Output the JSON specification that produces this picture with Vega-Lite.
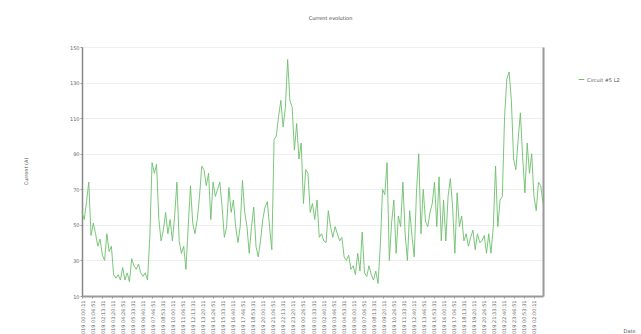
{
  "$schema": "https://vega.github.io/schema/vega-lite/v6.json",
  "width": 461,
  "height": 249,
  "autosize": {"type": "none"},
  "padding": {"left": 82, "top": 47, "right": 98, "bottom": 38},
  "background": "white",
  "config": {"view": {"stroke": null}, "font": "DejaVu Sans"},
  "title": {"text": "Current evolution", "fontSize": 5, "fontWeight": "normal", "color": "#444444", "offset": 24, "dx": 18},
  "data": {"values": [
    {"t":"2019-01-01T00:00","v":57},{"t":"2019-01-01T00:15","v":53},{"t":"2019-01-01T00:30","v":63},{"t":"2019-01-01T00:45","v":74},
    {"t":"2019-01-01T01:00","v":44},{"t":"2019-01-01T01:15","v":51},{"t":"2019-01-01T01:30","v":45},{"t":"2019-01-01T01:45","v":38},
    {"t":"2019-01-01T02:00","v":42},{"t":"2019-01-01T02:15","v":33},{"t":"2019-01-01T02:30","v":30},{"t":"2019-01-01T02:45","v":45},
    {"t":"2019-01-01T03:00","v":35},{"t":"2019-01-01T03:15","v":38},{"t":"2019-01-01T03:30","v":22},{"t":"2019-01-01T03:45","v":20},
    {"t":"2019-01-01T04:00","v":22},{"t":"2019-01-01T04:15","v":19},{"t":"2019-01-01T04:30","v":26},{"t":"2019-01-01T04:45","v":19},
    {"t":"2019-01-01T05:00","v":23},{"t":"2019-01-01T05:15","v":18},{"t":"2019-01-01T05:30","v":31},{"t":"2019-01-01T05:45","v":27},
    {"t":"2019-01-01T06:00","v":25},{"t":"2019-01-01T06:15","v":28},{"t":"2019-01-01T06:30","v":23},{"t":"2019-01-01T06:45","v":21},
    {"t":"2019-01-01T07:00","v":23},{"t":"2019-01-01T07:15","v":19},{"t":"2019-01-01T07:30","v":43},{"t":"2019-01-01T07:45","v":85},
    {"t":"2019-01-01T08:00","v":79},{"t":"2019-01-01T08:15","v":84},{"t":"2019-01-01T08:30","v":53},{"t":"2019-01-01T08:45","v":41},
    {"t":"2019-01-01T09:00","v":47},{"t":"2019-01-01T09:15","v":57},{"t":"2019-01-01T09:30","v":45},{"t":"2019-01-01T09:45","v":53},
    {"t":"2019-01-01T10:00","v":41},{"t":"2019-01-01T10:15","v":55},{"t":"2019-01-01T10:30","v":74},{"t":"2019-01-01T10:45","v":41},
    {"t":"2019-01-01T11:00","v":34},{"t":"2019-01-01T11:15","v":38},{"t":"2019-01-01T11:30","v":25},{"t":"2019-01-01T11:45","v":49},
    {"t":"2019-01-01T12:00","v":72},{"t":"2019-01-01T12:15","v":51},{"t":"2019-01-01T12:30","v":45},{"t":"2019-01-01T12:45","v":53},
    {"t":"2019-01-01T13:00","v":66},{"t":"2019-01-01T13:15","v":83},{"t":"2019-01-01T13:30","v":81},{"t":"2019-01-01T13:45","v":72},
    {"t":"2019-01-01T14:00","v":79},{"t":"2019-01-01T14:15","v":53},{"t":"2019-01-01T14:30","v":74},{"t":"2019-01-01T14:45","v":66},
    {"t":"2019-01-01T15:00","v":70},{"t":"2019-01-01T15:15","v":74},{"t":"2019-01-01T15:30","v":60},{"t":"2019-01-01T15:45","v":43},
    {"t":"2019-01-01T16:00","v":49},{"t":"2019-01-01T16:15","v":71},{"t":"2019-01-01T16:30","v":57},{"t":"2019-01-01T16:45","v":64},
    {"t":"2019-01-01T17:00","v":49},{"t":"2019-01-01T17:15","v":40},{"t":"2019-01-01T17:30","v":49},{"t":"2019-01-01T17:45","v":75},
    {"t":"2019-01-01T18:00","v":57},{"t":"2019-01-01T18:15","v":49},{"t":"2019-01-01T18:30","v":34},{"t":"2019-01-01T18:45","v":49},
    {"t":"2019-01-01T19:00","v":60},{"t":"2019-01-01T19:15","v":38},{"t":"2019-01-01T19:30","v":32},{"t":"2019-01-01T19:45","v":41},
    {"t":"2019-01-01T20:00","v":53},{"t":"2019-01-01T20:15","v":60},{"t":"2019-01-01T20:30","v":63},{"t":"2019-01-01T20:45","v":49},
    {"t":"2019-01-01T21:00","v":36},{"t":"2019-01-01T21:15","v":98},{"t":"2019-01-01T21:30","v":100},{"t":"2019-01-01T21:45","v":111},
    {"t":"2019-01-01T22:00","v":120},{"t":"2019-01-01T22:15","v":105},{"t":"2019-01-01T22:30","v":116},{"t":"2019-01-01T22:45","v":143},
    {"t":"2019-01-01T23:00","v":120},{"t":"2019-01-01T23:15","v":116},{"t":"2019-01-01T23:30","v":92},{"t":"2019-01-01T23:45","v":107},
    {"t":"2019-01-02T00:00","v":87},{"t":"2019-01-02T00:15","v":96},{"t":"2019-01-02T00:30","v":62},{"t":"2019-01-02T00:45","v":81},
    {"t":"2019-01-02T01:00","v":79},{"t":"2019-01-02T01:15","v":57},{"t":"2019-01-02T01:30","v":62},{"t":"2019-01-02T01:45","v":53},
    {"t":"2019-01-02T02:00","v":64},{"t":"2019-01-02T02:15","v":43},{"t":"2019-01-02T02:30","v":45},{"t":"2019-01-02T02:45","v":41},
    {"t":"2019-01-02T03:00","v":40},{"t":"2019-01-02T03:15","v":58},{"t":"2019-01-02T03:30","v":49},{"t":"2019-01-02T03:45","v":43},
    {"t":"2019-01-02T04:00","v":49},{"t":"2019-01-02T04:15","v":45},{"t":"2019-01-02T04:30","v":41},{"t":"2019-01-02T04:45","v":43},
    {"t":"2019-01-02T05:00","v":32},{"t":"2019-01-02T05:15","v":30},{"t":"2019-01-02T05:30","v":33},{"t":"2019-01-02T05:45","v":25},
    {"t":"2019-01-02T06:00","v":27},{"t":"2019-01-02T06:15","v":22},{"t":"2019-01-02T06:30","v":34},{"t":"2019-01-02T06:45","v":24},
    {"t":"2019-01-02T07:00","v":46},{"t":"2019-01-02T07:15","v":23},{"t":"2019-01-02T07:30","v":21},{"t":"2019-01-02T07:45","v":27},
    {"t":"2019-01-02T08:00","v":22},{"t":"2019-01-02T08:15","v":19},{"t":"2019-01-02T08:30","v":24},{"t":"2019-01-02T08:45","v":17},
    {"t":"2019-01-02T09:00","v":38},{"t":"2019-01-02T09:15","v":70},{"t":"2019-01-02T09:30","v":67},{"t":"2019-01-02T09:45","v":85},
    {"t":"2019-01-02T10:00","v":30},{"t":"2019-01-02T10:15","v":51},{"t":"2019-01-02T10:30","v":64},{"t":"2019-01-02T10:45","v":34},
    {"t":"2019-01-02T11:00","v":55},{"t":"2019-01-02T11:15","v":49},{"t":"2019-01-02T11:30","v":74},{"t":"2019-01-02T11:45","v":45},
    {"t":"2019-01-02T12:00","v":30},{"t":"2019-01-02T12:15","v":58},{"t":"2019-01-02T12:30","v":44},{"t":"2019-01-02T12:45","v":32},
    {"t":"2019-01-02T13:00","v":68},{"t":"2019-01-02T13:15","v":90},{"t":"2019-01-02T13:30","v":45},{"t":"2019-01-02T13:45","v":70},
    {"t":"2019-01-02T14:00","v":52},{"t":"2019-01-02T14:15","v":49},{"t":"2019-01-02T14:30","v":57},{"t":"2019-01-02T14:45","v":62},
    {"t":"2019-01-02T15:00","v":74},{"t":"2019-01-02T15:15","v":49},{"t":"2019-01-02T15:30","v":77},{"t":"2019-01-02T15:45","v":41},
    {"t":"2019-01-02T16:00","v":64},{"t":"2019-01-02T16:15","v":41},{"t":"2019-01-02T16:30","v":66},{"t":"2019-01-02T16:45","v":76},
    {"t":"2019-01-02T17:00","v":60},{"t":"2019-01-02T17:15","v":34},{"t":"2019-01-02T17:30","v":68},{"t":"2019-01-02T17:45","v":49},
    {"t":"2019-01-02T18:00","v":55},{"t":"2019-01-02T18:15","v":41},{"t":"2019-01-02T18:30","v":45},{"t":"2019-01-02T18:45","v":38},
    {"t":"2019-01-02T19:00","v":43},{"t":"2019-01-02T19:15","v":47},{"t":"2019-01-02T19:30","v":36},{"t":"2019-01-02T19:45","v":45},
    {"t":"2019-01-02T20:00","v":40},{"t":"2019-01-02T20:15","v":41},{"t":"2019-01-02T20:30","v":44},{"t":"2019-01-02T20:45","v":34},
    {"t":"2019-01-02T21:00","v":45},{"t":"2019-01-02T21:15","v":34},{"t":"2019-01-02T21:30","v":49},{"t":"2019-01-02T21:45","v":83},
    {"t":"2019-01-02T22:00","v":49},{"t":"2019-01-02T22:15","v":64},{"t":"2019-01-02T22:30","v":66},{"t":"2019-01-02T22:45","v":111},
    {"t":"2019-01-02T23:00","v":132},{"t":"2019-01-02T23:15","v":136},{"t":"2019-01-02T23:30","v":120},{"t":"2019-01-02T23:45","v":87},
    {"t":"2019-01-03T00:00","v":81},{"t":"2019-01-03T00:15","v":98},{"t":"2019-01-03T00:30","v":113},{"t":"2019-01-03T00:45","v":88},
    {"t":"2019-01-03T01:00","v":68},{"t":"2019-01-03T01:15","v":96},{"t":"2019-01-03T01:30","v":79},{"t":"2019-01-03T01:45","v":90},
    {"t":"2019-01-03T02:00","v":66},{"t":"2019-01-03T02:15","v":58},{"t":"2019-01-03T02:30","v":74},{"t":"2019-01-03T02:45","v":72},
    {"t":"2019-01-03T03:00","v":62}
  ]},
  "layer": [
    {
      "mark": {"type": "line", "strokeWidth": 0.9, "interpolate": "linear"},
      "encoding": {
        "x": {
          "field": "t", "type": "temporal",
          "scale": {"nice": false},
          "axis": {
            "title": "Date", "titleFontSize": 5, "titleFontWeight": "normal", "titleColor": "#555555",
            "titleAngle": 0, "titleAlign": "center", "titleBaseline": "middle", "titleX": 547, "titleY": 34,
            "labelAngle": -90, "labelFontSize": 5, "labelColor": "#666666", "labelPadding": 2,
            "labelOverlap": false, "labelBound": false, "labelFlush": false,
            "format": "%d-%m-%Y %H:%M:%S", "formatType": "time",
            "tickSize": 2, "tickColor": "#999999", "domainColor": "#999999", "domainWidth": 2, "grid": false,
            "values": [
              {"year":2019,"month":1,"date":1,"hours":0,"minutes":0,"seconds":11},
              {"year":2019,"month":1,"date":1,"hours":1,"minutes":6,"seconds":51},
              {"year":2019,"month":1,"date":1,"hours":2,"minutes":13,"seconds":31},
              {"year":2019,"month":1,"date":1,"hours":3,"minutes":20,"seconds":11},
              {"year":2019,"month":1,"date":1,"hours":4,"minutes":26,"seconds":51},
              {"year":2019,"month":1,"date":1,"hours":5,"minutes":33,"seconds":31},
              {"year":2019,"month":1,"date":1,"hours":6,"minutes":40,"seconds":11},
              {"year":2019,"month":1,"date":1,"hours":7,"minutes":46,"seconds":51},
              {"year":2019,"month":1,"date":1,"hours":8,"minutes":53,"seconds":31},
              {"year":2019,"month":1,"date":1,"hours":10,"minutes":0,"seconds":11},
              {"year":2019,"month":1,"date":1,"hours":11,"minutes":6,"seconds":51},
              {"year":2019,"month":1,"date":1,"hours":12,"minutes":13,"seconds":31},
              {"year":2019,"month":1,"date":1,"hours":13,"minutes":20,"seconds":11},
              {"year":2019,"month":1,"date":1,"hours":14,"minutes":26,"seconds":51},
              {"year":2019,"month":1,"date":1,"hours":15,"minutes":33,"seconds":31},
              {"year":2019,"month":1,"date":1,"hours":16,"minutes":40,"seconds":11},
              {"year":2019,"month":1,"date":1,"hours":17,"minutes":46,"seconds":51},
              {"year":2019,"month":1,"date":1,"hours":18,"minutes":53,"seconds":31},
              {"year":2019,"month":1,"date":1,"hours":20,"minutes":0,"seconds":11},
              {"year":2019,"month":1,"date":1,"hours":21,"minutes":6,"seconds":51},
              {"year":2019,"month":1,"date":1,"hours":22,"minutes":13,"seconds":31},
              {"year":2019,"month":1,"date":1,"hours":23,"minutes":20,"seconds":11},
              {"year":2019,"month":1,"date":2,"hours":0,"minutes":26,"seconds":51},
              {"year":2019,"month":1,"date":2,"hours":1,"minutes":33,"seconds":31},
              {"year":2019,"month":1,"date":2,"hours":2,"minutes":40,"seconds":11},
              {"year":2019,"month":1,"date":2,"hours":3,"minutes":46,"seconds":51},
              {"year":2019,"month":1,"date":2,"hours":4,"minutes":53,"seconds":31},
              {"year":2019,"month":1,"date":2,"hours":6,"minutes":0,"seconds":11},
              {"year":2019,"month":1,"date":2,"hours":7,"minutes":6,"seconds":51},
              {"year":2019,"month":1,"date":2,"hours":8,"minutes":13,"seconds":31},
              {"year":2019,"month":1,"date":2,"hours":9,"minutes":20,"seconds":11},
              {"year":2019,"month":1,"date":2,"hours":10,"minutes":26,"seconds":51},
              {"year":2019,"month":1,"date":2,"hours":11,"minutes":33,"seconds":31},
              {"year":2019,"month":1,"date":2,"hours":12,"minutes":40,"seconds":11},
              {"year":2019,"month":1,"date":2,"hours":13,"minutes":46,"seconds":51},
              {"year":2019,"month":1,"date":2,"hours":14,"minutes":53,"seconds":31},
              {"year":2019,"month":1,"date":2,"hours":16,"minutes":0,"seconds":11},
              {"year":2019,"month":1,"date":2,"hours":17,"minutes":6,"seconds":51},
              {"year":2019,"month":1,"date":2,"hours":18,"minutes":13,"seconds":31},
              {"year":2019,"month":1,"date":2,"hours":19,"minutes":20,"seconds":11},
              {"year":2019,"month":1,"date":2,"hours":20,"minutes":26,"seconds":51},
              {"year":2019,"month":1,"date":2,"hours":21,"minutes":33,"seconds":31},
              {"year":2019,"month":1,"date":2,"hours":22,"minutes":40,"seconds":11},
              {"year":2019,"month":1,"date":2,"hours":23,"minutes":46,"seconds":51},
              {"year":2019,"month":1,"date":3,"hours":0,"minutes":53,"seconds":31},
              {"year":2019,"month":1,"date":3,"hours":2,"minutes":0,"seconds":11}
            ]
          }
        },
        "y": {
          "field": "v", "type": "quantitative",
          "scale": {"domain": [10, 150], "nice": false, "zero": false},
          "axis": {
            "title": "Current (A)", "titleFontSize": 5, "titleFontWeight": "normal", "titleColor": "#555555",
            "titleAngle": -90, "titleAlign": "center", "titleBaseline": "middle", "titleX": -57, "titleY": 124,
            "values": [10, 30, 50, 70, 90, 110, 130, 150],
            "labelFontSize": 5, "labelColor": "#666666", "labelPadding": 1,
            "tickSize": 2, "tickColor": "#999999", "domainColor": "#888888", "domainWidth": 1.5,
            "grid": true, "gridColor": "#eeeeee", "gridWidth": 1
          }
        },
        "color": {
          "datum": "Circuit #5 L2",
          "scale": {"range": ["#6cc06c"]},
          "legend": {
            "title": null, "orient": "none", "legendX": 496, "legendY": 29, "padding": 0,
            "symbolType": "stroke", "symbolSize": 30, "symbolStrokeWidth": 1,
            "labelFontSize": 5, "labelColor": "#555555", "labelOffset": 2
          }
        }
      }
    },
    {
      "mark": {"type": "rule", "opacity": 0},
      "encoding": {
        "y": {
          "datum": 10, "type": "quantitative",
          "axis": {"orient": "right", "title": null, "labels": false, "ticks": false, "grid": false, "domainColor": "#999999", "domainWidth": 2}
        }
      }
    }
  ],
  "resolve": {"axis": {"y": "independent"}}
}
